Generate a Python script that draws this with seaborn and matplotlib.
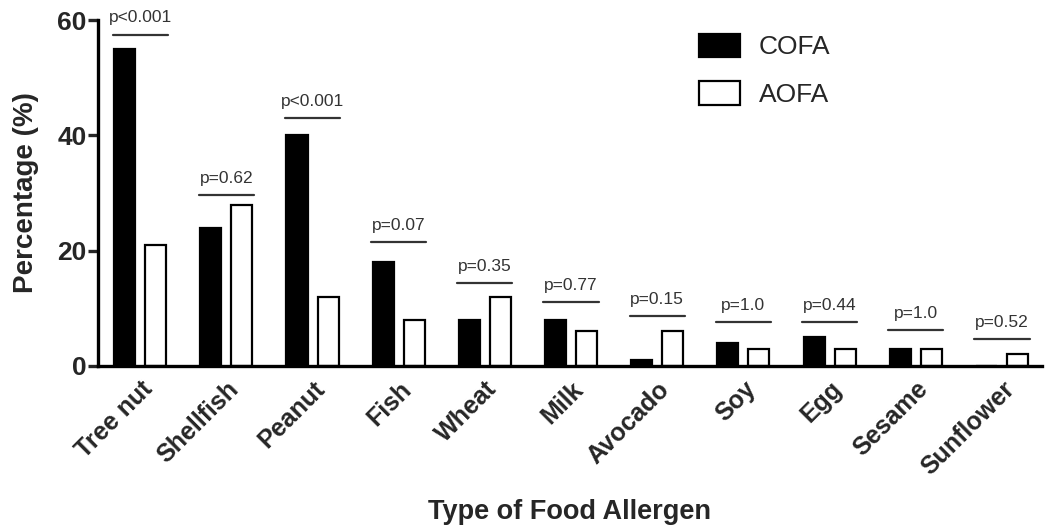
import pandas as pd
import matplotlib.pyplot as plt
import seaborn as sns

sns.set_style('white')
plt.rcParams['font.family'] = ['Liberation Sans', 'DejaVu Sans']

# values
allergens = ['Tree nut', 'Shellfish', 'Peanut', 'Fish', 'Wheat', 'Milk',
             'Avocado', 'Soy', 'Egg', 'Sesame', 'Sunflower']
cofa = [55, 24, 40, 18, 8, 8, 1, 4, 5, 3, 0]
aofa = [21, 28, 12, 8, 12, 6, 6, 3, 3, 3, 2]
p_labels = ['p<0.001', 'p=0.62', 'p<0.001', 'p=0.07', 'p=0.35', 'p=0.77',
            'p=0.15', 'p=1.0', 'p=0.44', 'p=1.0', 'p=0.52']
p_heights = [57.5, 29.6, 43, 21.5, 14.4, 11.1, 8.7, 7.6, 7.6, 6.2, 4.7]

df = pd.DataFrame({
    'allergen': allergens * 2,
    'pct': cofa + aofa,
    'group': ['COFA'] * len(allergens) + ['AOFA'] * len(allergens),
})

fig = plt.figure(figsize=(10.5, 5.31), dpi=100)
ax = fig.add_axes([0.0933, 0.311, 0.8987, 0.651])

sns.barplot(data=df, x='allergen', y='pct', hue='group',
            palette={'COFA': 'black', 'AOFA': 'white'},
            edgecolor='black', linewidth=1.6, width=0.72, gap=0.32,
            ax=ax)

ax.set_xlim(-0.49, 10.46)
ax.set_ylim(0, 60)
ax.set_yticks([0, 20, 40, 60])
for s in ['top', 'right']:
    ax.spines[s].set_visible(False)
for s in ['left', 'bottom']:
    ax.spines[s].set_linewidth(2.4)
    ax.spines[s].set_color('black')
ax.tick_params(axis='y', length=7, width=2.4, direction='out',
               labelsize=19, pad=1, left=True)
ax.tick_params(axis='x', length=0, labelsize=18, pad=8)
for lab in ax.get_yticklabels():
    lab.set_fontweight('bold')
plt.setp(ax.get_xticklabels(), rotation=45, ha='right',
         rotation_mode='anchor', fontweight='bold')

ax.set_ylabel('Percentage (%)', fontsize=20, fontweight='bold', labelpad=13)
ax.set_xlabel('Type of Food Allergen', fontsize=19.5, fontweight='bold',
              labelpad=14)

for i, (lab, h) in enumerate(zip(p_labels, p_heights)):
    ax.plot([i - 0.32, i + 0.32], [h, h], color='#333333', lw=1.6,
            clip_on=False)
    ax.text(i, h + 1.6, lab, ha='center', va='bottom', fontsize=12.5,
            color='#333333')

leg = ax.legend(loc='upper left', bbox_to_anchor=(0.612, 1.03),
                frameon=False, fontsize=19, handlelength=1.55,
                handleheight=1.0, handletextpad=0.72, labelspacing=0.82)

fig.savefig('out.png', dpi=100)
